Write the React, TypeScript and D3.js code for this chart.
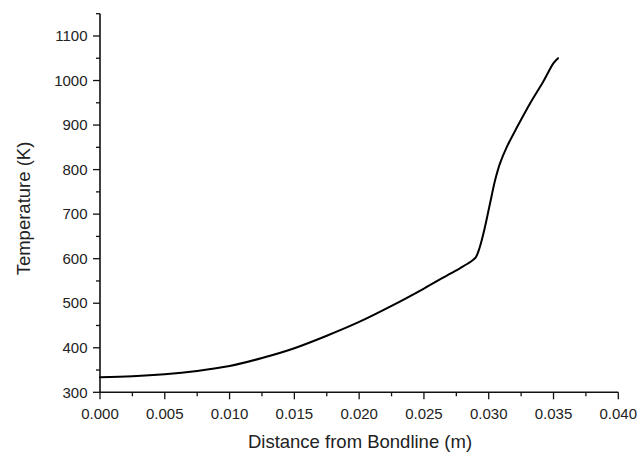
import React from "react";
import * as d3 from "d3";

const distance = [
  0, 0.0025, 0.005, 0.0075, 0.01, 0.0125, 0.015, 0.0175, 0.02, 0.0225, 0.025, 0.027,
  0.0278, 0.0286, 0.029, 0.0293, 0.0297, 0.0301, 0.0305, 0.03087, 0.0314, 0.0322,
  0.0332, 0.0342, 0.035, 0.03535,
];
const temperature = [
  334, 336, 340.5, 348, 359, 377, 399, 427, 458, 494, 533, 566,
  579, 593, 603, 625, 670, 724, 777, 814, 851, 896,
  949, 997, 1039, 1050,
];
const xTicks = [0, 0.005, 0.01, 0.015, 0.02, 0.025, 0.03, 0.035, 0.04];
const yTicks = [300, 400, 500, 600, 700, 800, 900, 1000, 1100];

const W = 639;
const H = 453;
const left = 100;
const right = 618.3;
const bottom = 392.3;
const yPer = 0.4454;

export default function App() {
  const x = d3.scaleLinear().domain([0, 0.04]).range([left, right]);
  const y = d3.scaleLinear().domain([300, 1100]).range([bottom, bottom - 800 * yPer]);
  const pts = distance.map((d, i) => [d, temperature[i]] as [number, number]);
  const line = d3
    .line<[number, number]>()
    .x((d) => x(d[0]))
    .y((d) => y(d[1]))
    .curve(d3.curveCatmullRom.alpha(0.5));
  const xMinor = d3.range(0, 0.0401, 0.0025);
  const yMinor = d3.range(300, 1151, 50);
  const font = "'Liberation Sans', Arial, sans-serif";
  const tc = "#222";
  return (
    <svg
      width={W}
      height={H}
      style={{ position: "absolute", left: 0, top: 0, background: "#fff" }}
      fontFamily={font}
    >
      <rect width={W} height={H} fill="#fff" />
      <line x1={left} x2={left} y1={y(1150)} y2={bottom} stroke="#111" strokeWidth={1.6} />
      <line x1={left} x2={right} y1={bottom} y2={bottom} stroke="#111" strokeWidth={1.6} />
      {xMinor.map((v, i) => (
        <line
          key={"xm" + i}
          x1={x(v)}
          x2={x(v)}
          y1={bottom}
          y2={bottom + (i % 2 === 0 ? 7 : 4)}
          stroke="#111"
          strokeWidth={1.3}
        />
      ))}
      {yMinor.map((v, i) => (
        <line
          key={"ym" + i}
          x1={left}
          x2={left - (i % 2 === 0 ? 7 : 4)}
          y1={y(v)}
          y2={y(v)}
          stroke="#111"
          strokeWidth={1.3}
        />
      ))}
      {xTicks.map((v) => (
        <text
          key={"xt" + v}
          x={x(v)}
          y={418.5}
          textAnchor="middle"
          fontSize={15}
          fill={tc}
        >
          {v.toFixed(3)}
        </text>
      ))}
      {yTicks.map((v) => (
        <text
          key={"yt" + v}
          x={87.5}
          y={y(v)}
          dy="0.35em"
          textAnchor="end"
          fontSize={15}
          fill={tc}
        >
          {v}
        </text>
      ))}
      <text x={360} y={448} textAnchor="middle" fontSize={18.5} fill={tc}>
        Distance from Bondline (m)
      </text>
      <text
        transform={`translate(30, 208.5) rotate(-90)`}
        textAnchor="middle"
        fontSize={18.5}
        fill={tc}
      >
        Temperature (K)
      </text>
      <path d={line(pts) || ""} fill="none" stroke="#000" strokeWidth={2} strokeLinejoin="round" strokeLinecap="round" />
    </svg>
  );
}
